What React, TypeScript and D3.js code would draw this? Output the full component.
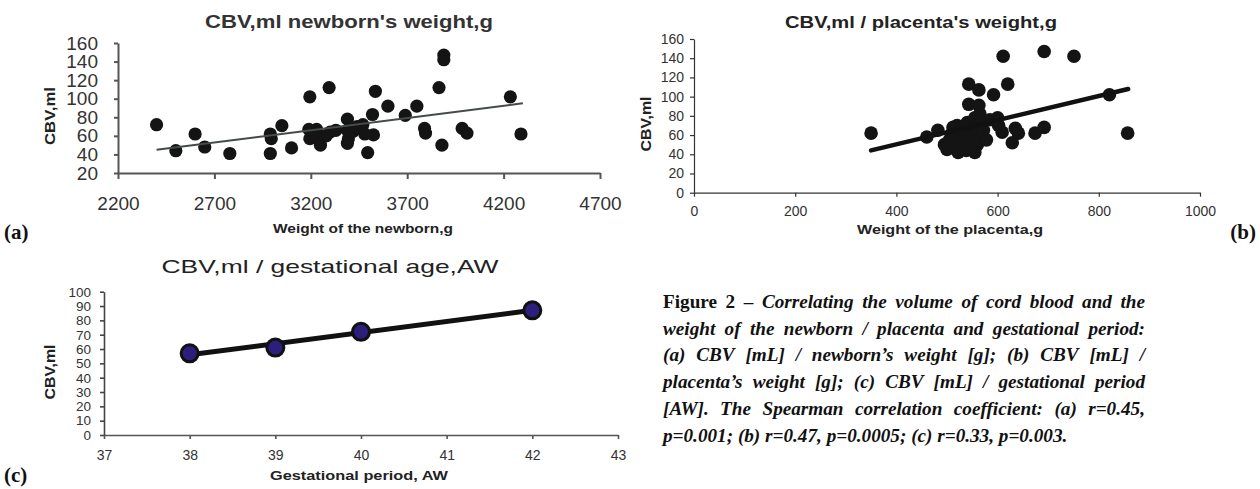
import React, { useEffect, useRef } from 'react'
import * as d3 from 'd3'

// (a) CBV vs newborn weight
const newbornWeight = [2400, 2500, 2600, 2650, 2780, 2990, 2995, 2990, 3050, 3100, 3195, 3190, 3195, 3230, 3240, 3250, 3215, 3295, 3300, 3280, 3330, 3390, 3390, 3395, 3390, 3420, 3440, 3470, 3480, 3495, 3520, 3525, 3535, 3600, 3690, 3750, 3790, 3795, 3880, 3865, 3890, 3890, 3985, 4010, 4235, 4290]
const newbornCbv = [72, 44, 62, 48, 41, 62, 57, 41, 71, 47, 102, 67, 57, 67, 56, 50, 62, 112, 64, 60, 66, 78, 66, 57, 52, 65, 70, 72, 62, 42, 83, 61, 108, 92, 82, 92, 68, 63, 50, 112, 147, 142, 68, 63, 102, 62]
const newbornTrend = [[2400, 45], [4300, 95]]
const newbornTicksX = [2200, 2700, 3200, 3700, 4200, 4700]
const newbornTicksY = [20, 40, 60, 80, 100, 120, 140, 160]

// (b) CBV vs placenta weight
const placentaWeight = [350, 460, 482, 495, 500, 505, 510, 515, 520, 522, 528, 530, 535, 538, 540, 543, 543, 545, 548, 550, 552, 555, 558, 560, 563, 563, 565, 568, 570, 572, 578, 585, 592, 600, 602, 609, 611, 620, 629, 635, 641, 674, 692, 692, 751, 821, 857, 525, 512, 555]
const placentaCbv = [62, 58, 65, 50, 45, 55, 62, 48, 70, 42, 58, 65, 50, 44, 73, 113, 92, 60, 55, 45, 68, 78, 62, 50, 107, 91, 82, 72, 58, 65, 55, 76, 102, 78, 70, 63, 142, 113, 52, 67, 62, 62, 68, 147, 142, 102, 62, 52, 68, 42]
const placentaTrend = [[350, 44], [858, 108]]
const placentaTicksX = [0, 200, 400, 600, 800, 1000]
const placentaTicksY = [0, 20, 40, 60, 80, 100, 120, 140, 160]

// (c) CBV vs gestational age
const gestWeeks = [38, 39, 40, 42]
const gestCbv = [57, 61, 72, 87]
const gestTrend = [[38, 56], [42, 87]]
const gestTicksX = [37, 38, 39, 40, 41, 42, 43]
const gestTicksY = [0, 10, 20, 30, 40, 50, 60, 70, 80, 90, 100]

const captionLines = [
  'Figure 2 – Correlating the volume of cord blood and the',
  'weight of the newborn / placenta and gestational period:',
  '(a) CBV [mL] / newborn’s weight [g]; (b) CBV [mL] /',
  'placenta’s weight [g]; (c) CBV [mL] / gestational period',
  '[AW]. The Spearman correlation coefficient: (a) r=0.45,',
  'p=0.001; (b) r=0.47, p=0.0005; (c) r=0.33, p=0.003.',
]

const sans = 'Liberation Sans, Arial, sans-serif'
const serif = 'Liberation Serif, Times New Roman, serif'

const App = () => {
  const ref = useRef<SVGSVGElement>(null)

  useEffect(() => {
    const svg = d3.select(ref.current)
    svg.selectAll('*').remove()

    const styleAxis = (g: any, color: string, width: number, size: number) => {
      g.attr('font-family', sans).attr('font-size', size)
      g.selectAll('path').attr('stroke', color).attr('stroke-width', width)
      g.selectAll('line').attr('stroke', color).attr('stroke-width', width)
      g.selectAll('text').attr('fill', '#333')
    }

    const label = (text: string, x: number, y: number, len: number, size: number, weight: string, rotate = false, fill = '#222') => {
      svg.append('text')
        .attr('transform', rotate ? `translate(${x},${y}) rotate(-90)` : `translate(${x},${y})`)
        .attr('text-anchor', 'middle')
        .attr('font-family', sans)
        .attr('font-size', size)
        .attr('font-weight', weight)
        .attr('fill', fill)
        .attr('textLength', len)
        .attr('lengthAdjust', 'spacingAndGlyphs')
        .text(text)
    }

    // ---------- (a) ----------
    const xA = d3.scaleLinear().domain([2200, 4700]).range([118, 600])
    const yA = d3.scaleLinear().domain([20, 160]).range([173, 43])
    const gA = svg.append('g')
    gA.append('g').attr('transform', 'translate(0,173)')
      .call(d3.axisBottom(xA).tickValues(newbornTicksX).tickFormat(d3.format('d')).tickSize(6).tickSizeOuter(0).tickPadding(18))
      .call(styleAxis, '#555', 2, 19)
    gA.append('g').attr('transform', 'translate(118,0)')
      .call(d3.axisLeft(yA).tickValues(newbornTicksY).tickSize(4).tickSizeOuter(0).tickPadding(16))
      .call(styleAxis, '#555', 2, 19)
    gA.selectAll('circle.pt').data(d3.zip(newbornWeight, newbornCbv)).enter()
      .append('circle').attr('class', 'pt')
      .attr('cx', d => xA(d[0])).attr('cy', d => yA(d[1])).attr('r', 6.6)
      .attr('fill', '#141414')
    gA.append('path').datum(newbornTrend)
      .attr('d', d3.line<number[]>().x(d => xA(d[0])).y(d => yA(d[1])))
      .attr('stroke', '#454a4a').attr('stroke-width', 2).attr('fill', 'none')
    label("CBV,ml newborn's weight,g", 349, 28, 288, 18, 'bold', false, '#333')
    label('CBV,ml', 55, 116, 58, 14, 'bold', true)
    label('Weight of the newborn,g', 363, 233, 180, 13, 'bold')

    // ---------- (b) ----------
    const xB = d3.scaleLinear().domain([0, 1000]).range([694, 1200])
    const yB = d3.scaleLinear().domain([0, 160]).range([192.7, 39])
    const gB = svg.append('g')
    gB.append('g').attr('transform', 'translate(0,192.7)')
      .call(d3.axisBottom(xB).tickValues(placentaTicksX).tickFormat(d3.format('d')).tickSize(4).tickSizeOuter(0).tickPadding(9))
      .call(styleAxis, '#333', 1.2, 14)
    gB.append('g').attr('transform', 'translate(694,0)')
      .call(d3.axisLeft(yB).tickValues(placentaTicksY).tickFormat(d3.format('d')).tickSize(4).tickSizeOuter(0).tickPadding(6))
      .call(styleAxis, '#333', 1.2, 14)
    gB.selectAll('circle.pt').data(d3.zip(placentaWeight, placentaCbv)).enter()
      .append('circle').attr('class', 'pt')
      .attr('cx', d => xB(d[0])).attr('cy', d => yB(d[1])).attr('r', 6.8)
      .attr('fill', '#141414')
    gB.append('path').datum(placentaTrend)
      .attr('d', d3.line<number[]>().x(d => xB(d[0])).y(d => yB(d[1])))
      .attr('stroke', '#111').attr('stroke-width', 4.5).attr('stroke-linecap', 'round').attr('fill', 'none')
    label("CBV,ml / placenta's weight,g", 921, 28, 272, 17, 'bold')
    label('CBV,ml', 651, 124, 55, 14, 'bold', true)
    label('Weight of the placenta,g', 950, 234, 186, 13, 'bold')

    // ---------- (c) ----------
    const xC = d3.scaleLinear().domain([37, 43]).range([104, 618])
    const yC = d3.scaleLinear().domain([0, 100]).range([435, 291.7])
    const gC = svg.append('g')
    gC.append('g').attr('transform', 'translate(0,435)')
      .call(d3.axisBottom(xC).tickValues(gestTicksX).tickFormat(d3.format('d')).tickSize(4).tickSizeOuter(0).tickPadding(11))
      .call(styleAxis, '#555', 1.6, 14)
    gC.append('g').attr('transform', 'translate(104,0)')
      .call(d3.axisLeft(yC).tickValues(gestTicksY).tickFormat(d3.format('d')).tickSize(4).tickSizeOuter(0).tickPadding(9))
      .call(styleAxis, '#444', 1.6, 13.5)
    gC.append('path').datum(gestTrend)
      .attr('d', d3.line<number[]>().x(d => xC(d[0])).y(d => yC(d[1])))
      .attr('stroke', '#111').attr('stroke-width', 5).attr('fill', 'none')
    gC.selectAll('circle.pt').data(d3.zip(gestWeeks, gestCbv)).enter()
      .append('circle').attr('class', 'pt')
      .attr('cx', d => xC(d[0])).attr('cy', d => yC(d[1])).attr('r', 8.5)
      .attr('fill', '#2c1f7c').attr('stroke', '#111').attr('stroke-width', 3)
    label('CBV,ml / gestational age,AW', 330, 273, 337, 19, 'normal')
    label('CBV,ml', 55, 372, 55, 14, 'bold', true)
    label('Gestational period, AW', 359, 480, 178, 13, 'bold')

    // panel letters
    const letter = (t: string, x: number, y: number, anchor: string) =>
      svg.append('text').attr('x', x).attr('y', y).attr('text-anchor', anchor)
        .attr('font-family', serif).attr('font-size', 21).attr('font-weight', 'bold').attr('fill', '#111').text(t)
    letter('(a)', 4, 239, 'start')
    letter('(b)', 1256, 239, 'end')
    letter('(c)', 4, 482, 'start')

    // caption, justified
    const cap = svg.append('g').attr('font-family', serif).attr('font-size', 19.2)
      .attr('font-weight', 'bold').attr('fill', '#111')
    captionLines.forEach((line, i) => {
      const words = line.split(' ')
      const t = cap.append('text').attr('y', 307.7 + i * 26.8)
      const spans = words.map((w, j) => t.append('tspan').text(w)
        .attr('font-style', i === 0 && j < 3 ? 'normal' : 'italic'))
      const widths = spans.map(s => (s.node() as SVGTSpanElement).getComputedTextLength())
      const last = i === captionLines.length - 1
      const gap = last ? 4.8 : (482 - d3.sum(widths)) / (words.length - 1)
      let x = 663
      spans.forEach((s, j) => { s.attr('x', x); x += widths[j] + gap })
    })
  }, [])

  return <svg ref={ref} width={1260} height={489} style={{ position: 'absolute', left: 0, top: 0, background: '#fff' }} />
}

export default App
